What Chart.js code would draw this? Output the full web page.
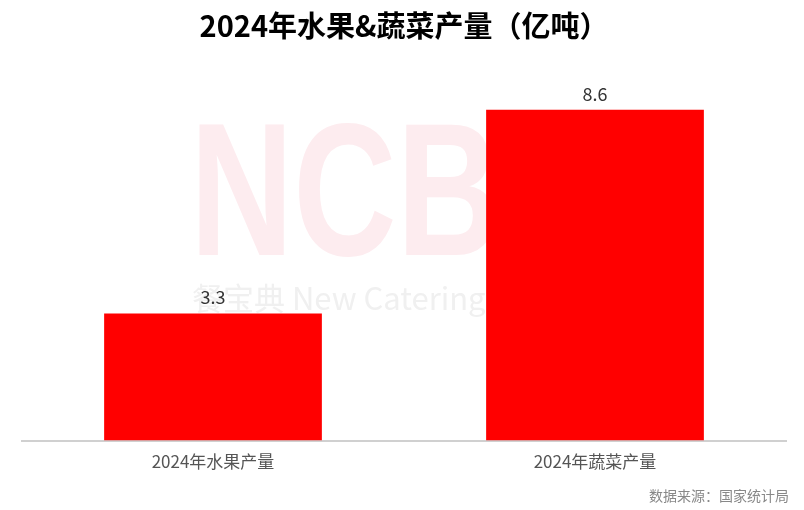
<!DOCTYPE html>
<html>
<head>
<meta charset="utf-8">
<script src="https://cdn.jsdelivr.net/npm/chart.js@4/dist/chart.umd.min.js"></script>
<style>
    body { margin: 0; background: #fff; }
    #box { width: 804px; height: 510px; }
</style>
</head>
<body>
<div id="box"><canvas id="myChart" width="804" height="510"></canvas></div>
<script>
// chart data
const categories = ["2024年水果产量", "2024年蔬菜产量"];
const values = [3.3, 8.6];
const titleText = "2024年水果&蔬菜产量（亿吨）";
const sourceText = "数据来源：国家统计局";

const cjkFont = "'Noto Sans CJK SC', 'Noto Sans', sans-serif";

// faint watermark behind the bars
const watermark = {
    id: "watermark",
    beforeDatasetsDraw(chart) {
        const ctx = chart.ctx;
        ctx.save();
        ctx.fillStyle = "#fdecef";
        ctx.font = "bold 190px 'Liberation Sans', sans-serif";
        ctx.textBaseline = "alphabetic";
        const w = ctx.measureText("NCB").width;
        ctx.translate(190, 255);
        ctx.scale(310 / w, 1);
        ctx.fillText("NCB", 0, 0);
        ctx.restore();

        ctx.save();
        ctx.fillStyle = "#f0f0f0";
        ctx.font = "31px " + cjkFont;
        ctx.textBaseline = "middle";
        ctx.fillText("餐宝典 New Catering", 192, 298);
        ctx.restore();
    }
};

// value labels above bars + source note
const labelsPlugin = {
    id: "valueLabels",
    afterDatasetsDraw(chart) {
        const ctx = chart.ctx;
        ctx.save();
        ctx.fillStyle = "#333";
        ctx.font = "18px " + cjkFont;
        ctx.textAlign = "center";
        ctx.textBaseline = "bottom";
        chart.getDatasetMeta(0).data.forEach((bar, i) => {
            ctx.fillText(values[i].toFixed(1), bar.x, bar.y - 7);
        });

        ctx.fillStyle = "#888";
        ctx.font = "14px " + cjkFont;
        ctx.textAlign = "right";
        ctx.textBaseline = "middle";
        ctx.fillText(sourceText, 789, 496);
        ctx.restore();
    }
};

new Chart("myChart", {
    type: "bar",
    data: {
        labels: categories,
        datasets: [{
            data: values,
            backgroundColor: "#ff0000",
            barPercentage: 0.57,
            categoryPercentage: 1
        }]
    },
    options: {
        responsive: false,
        animation: false,
        layout: {
            padding: { left: 22, right: 18, top: 6, bottom: 27 }
        },
        plugins: {
            legend: { display: false },
            tooltip: { enabled: false },
            title: {
                display: true,
                text: titleText,
                color: "#000",
                font: { size: 29, weight: "bold", family: cjkFont },
                padding: { top: 3, bottom: 12 }
            }
        },
        scales: {
            x: {
                grid: { display: false, drawTicks: false },
                border: { display: true, color: "#d0d0d0", width: 2 },
                ticks: {
                    color: "#555",
                    padding: 11,
                    font: { size: 17, family: cjkFont }
                }
            },
            y: {
                display: false,
                min: 0,
                max: 10
            }
        }
    },
    plugins: [watermark, labelsPlugin]
});
</script>
</body>
</html>
